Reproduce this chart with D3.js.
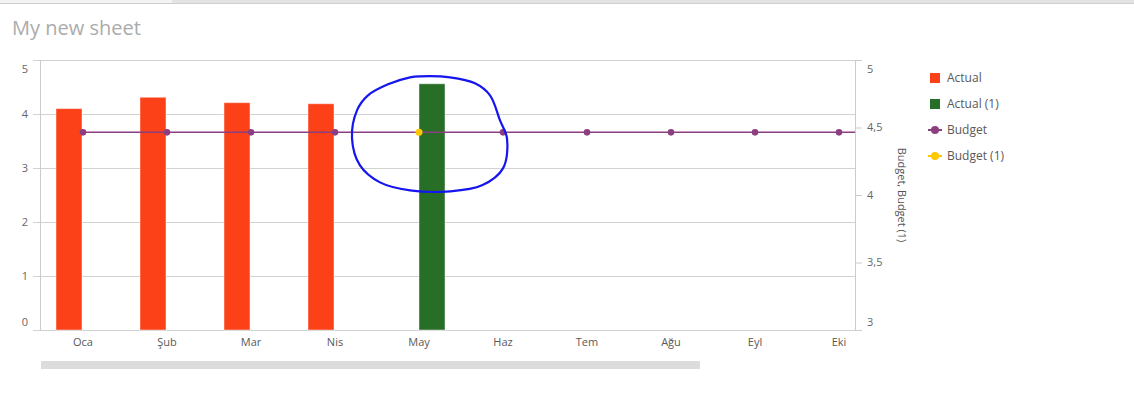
<!DOCTYPE html>
<html>
<head>
<meta charset="utf-8">
<script src="https://cdn.jsdelivr.net/npm/d3@7"></script>
<style>
  html, body { margin: 0; padding: 0; background: #fff; }
  svg { display: block; font-family: "Open Sans", "Noto Sans", sans-serif; }
</style>
</head>
<body>
<svg id="chart" width="1134" height="412"></svg>
<script>
// ---- data ----
const months = ["Oca", "Şub", "Mar", "Nis", "May", "Haz", "Tem", "Ağu", "Eyl", "Eki", "Kas", "Ara"];
const actual = [4.1, 4.31, 4.21, 4.19, null, null, null, null, null, null, null, null];
const actual1 = [null, null, null, null, 4.56, null, null, null, null, null, null, null];
const budget = [4.464, 4.464, 4.464, 4.464, 4.464, 4.464, 4.464, 4.464, 4.464, 4.464, 4.464, 4.464];
const budget1 = [null, null, null, null, 4.464, null, null, null, null, null, null, null];
const leftTicks = [0, 1, 2, 3, 4, 5];
const rightTicks = [3, 3.5, 4, 4.5, 5];
const legendItems = ["Actual", "Actual (1)", "Budget", "Budget (1)"];

const colActual = "#fc4119", colActual1 = "#276e27", colBudget = "#8c3f80", colBudget1 = "#ffc800";

const svg = d3.select("#chart");

// top strip
svg.append("rect").attr("x", 0).attr("y", 0).attr("width", 172).attr("height", 3).attr("fill", "#f3f3f3");
svg.append("rect").attr("x", 172).attr("y", 0).attr("width", 962).attr("height", 3).attr("fill", "#e3e3e3");
svg.append("line").attr("x1", 0).attr("x2", 1134).attr("y1", 3.5).attr("y2", 3.5).attr("stroke", "#cfcfcf");

// title
svg.append("text").attr("x", 12).attr("y", 35).attr("font-size", 20).attr("fill", "#ababab").text("My new sheet");

const plot = { left: 40, right: 855, top: 60, bottom: 330 };
const step = 84;
const x = d3.scaleBand().domain(months).range([plot.left + 1, plot.left + 1 + step * months.length]).paddingInner(0).paddingOuter(0);
const inner = d3.scaleBand().domain(["a", "b"]).range([-27, 27]);
const yL = d3.scaleLinear().domain([0, 5]).range([plot.bottom, plot.top]);
const yR = d3.scaleLinear().domain([3, 5]).range([plot.bottom, plot.top]);
const cx = m => x(m) + x.bandwidth() / 2;

svg.append("defs").append("clipPath").attr("id", "clip")
  .append("rect").attr("x", plot.left).attr("y", plot.top - 6).attr("width", plot.right - plot.left).attr("height", plot.bottom - plot.top + 40);

// gridlines
svg.append("g").selectAll("line").data(leftTicks).join("line")
  .attr("x1", plot.left - 7).attr("x2", plot.right)
  .attr("y1", d => yL(d) + 0.5).attr("y2", d => yL(d) + 0.5)
  .attr("stroke", "#d2d2d2");

// axes lines
svg.append("line").attr("x1", plot.left + 0.5).attr("x2", plot.left + 0.5).attr("y1", plot.top).attr("y2", plot.bottom + 0.5).attr("stroke", "#cccccc");
svg.append("line").attr("x1", plot.right + 0.5).attr("x2", plot.right + 0.5).attr("y1", plot.top).attr("y2", plot.bottom + 0.5).attr("stroke", "#cccccc");

// left axis labels
svg.append("g").selectAll("text").data(leftTicks).join("text")
  .attr("x", 28).attr("text-anchor", "end")
  .attr("y", d => yL(d) + (d === 5 ? 9 : d === 0 ? -8 : 0))
  .attr("dy", "0.35em").attr("font-size", 11).attr("fill", "#666")
  .text(d => d);

// right axis
const fmtR = d => String(d).replace(".", ",");
svg.append("g").selectAll("line").data(rightTicks).join("line")
  .attr("x1", plot.right).attr("x2", plot.right + 7)
  .attr("y1", d => yR(d) + 0.5).attr("y2", d => yR(d) + 0.5).attr("stroke", "#cccccc");
svg.append("g").selectAll("text").data(rightTicks).join("text")
  .attr("x", 867)
  .attr("y", d => yR(d) + (d === 5 ? 9 : d === 3 ? -8 : 0))
  .attr("dy", "0.35em").attr("font-size", 11).attr("fill", "#666")
  .text(fmtR);
svg.append("text").attr("transform", `translate(902,${(plot.top + plot.bottom) / 2}) rotate(90)`)
  .attr("text-anchor", "middle").attr("dy", "0.35em").attr("font-size", 11).attr("fill", "#555")
  .text("Budget, Budget (1)");

const g = svg.append("g").attr("clip-path", "url(#clip)");

// bars
g.append("g").selectAll("rect").data(months.map((m, i) => ({ m, v: actual[i] })).filter(d => d.v != null)).join("rect")
  .attr("x", d => cx(d.m) + inner("a")).attr("width", inner.bandwidth() - 1)
  .attr("y", d => yL(d.v)).attr("height", d => yL(0) - yL(d.v))
  .attr("fill", colActual).attr("stroke", "rgba(255,255,255,0.45)").attr("stroke-width", 1);
g.append("g").selectAll("rect").data(months.map((m, i) => ({ m, v: actual1[i] })).filter(d => d.v != null)).join("rect")
  .attr("x", d => cx(d.m) + inner("b")).attr("width", inner.bandwidth() - 1)
  .attr("y", d => yL(d.v)).attr("height", d => yL(0) - yL(d.v))
  .attr("fill", colActual1).attr("stroke", "rgba(255,255,255,0.45)").attr("stroke-width", 1);

// budget line
const bData = months.map((m, i) => ({ m, v: budget[i] }));
g.append("path").datum(bData)
  .attr("d", d3.line().defined(d => d.v != null).x(d => cx(d.m)).y(d => yR(d.v)))
  .attr("fill", "none").attr("stroke", colBudget).attr("stroke-width", 1.5);
g.append("g").selectAll("circle").data(bData.filter((d, i) => d.v != null && budget1[i] == null)).join("circle")
  .attr("cx", d => cx(d.m)).attr("cy", d => yR(d.v)).attr("r", 3.3).attr("fill", colBudget);
g.append("g").selectAll("circle").data(months.map((m, i) => ({ m, v: budget1[i] })).filter(d => d.v != null)).join("circle")
  .attr("cx", d => cx(d.m)).attr("cy", d => yR(d.v)).attr("r", 3.5).attr("fill", colBudget1);

// x labels
const xl = svg.append("g").attr("clip-path", "url(#clip)");
xl.selectAll("text").data(months).join("text")
  .attr("x", d => cx(d)).attr("y", 342).attr("dy", "0.35em").attr("text-anchor", "middle")
  .attr("font-size", 11).attr("fill", "#595959").text(d => d);

// scrollbar
const visible = plot.right - plot.left;
const total = step * months.length;
svg.append("rect").attr("x", plot.left + 1).attr("y", 361).attr("width", (visible * visible / total)).attr("height", 8).attr("fill", "#dcdcdc");

// legend
const lg = svg.append("g");
legendItems.forEach((name, i) => {
  const yy = 78 + i * 26;
  if (i < 2) {
    lg.append("rect").attr("x", 930).attr("y", yy - 5).attr("width", 10).attr("height", 10).attr("fill", i === 0 ? colActual : colActual1);
  } else {
    const c = i === 2 ? colBudget : colBudget1;
    lg.append("line").attr("x1", 928).attr("x2", 942).attr("y1", yy).attr("y2", yy).attr("stroke", c).attr("stroke-width", 2);
    lg.append("circle").attr("cx", 935).attr("cy", yy).attr("r", 4).attr("fill", c);
  }
  lg.append("text").attr("x", 947).attr("y", yy).attr("dy", "0.35em").attr("font-size", 12).attr("fill", "#595959").text(name);
});

// hand-drawn annotation around May
const ax = cx("May"), ay = yR(budget1[4]);
const loop = [[1, -56], [31, -55], [56, -49], [71, -37], [81, -12], [88, 6], [84, 36], [63, 53], [31, 59], [-9, 58], [-39, 50], [-59, 33], [-67, 6], [-62, -22], [-51, -37], [-31, -48], [-9, -55]];
svg.append("path")
  .attr("d", d3.line().curve(d3.curveCatmullRomClosed).x(p => ax + p[0]).y(p => ay + p[1])(loop))
  .attr("fill", "none").attr("stroke", "#1515f0").attr("stroke-width", 2.2).attr("stroke-linejoin", "round");
</script>
</body>
</html>
